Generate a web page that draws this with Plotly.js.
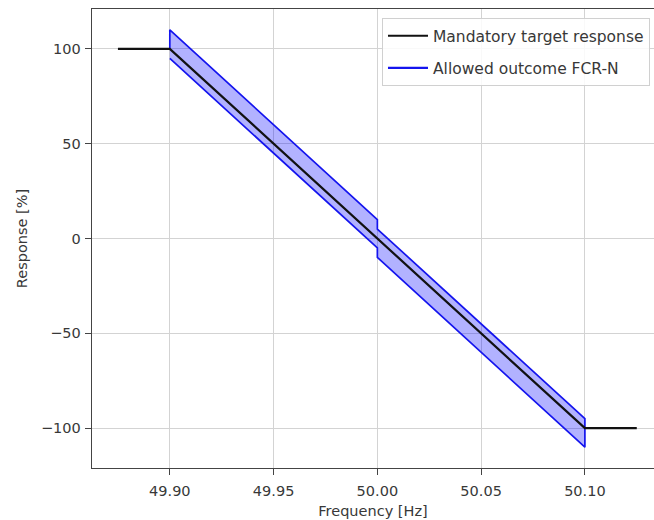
<!DOCTYPE html>
<html>
<head>
<meta charset="utf-8">
<script src="https://cdn.plot.ly/plotly-3.0.1.min.js"></script>
<style>html,body{margin:0;padding:0;background:#fff}#chart{width:654px;height:520px}</style>
</head>
<body>
<div id="chart"></div>
<script>
// Mandatory target response
const targetFreq = [49.875, 49.9, 50.1, 50.125];
const targetResp = [100, 100, -100, -100];

// Allowed outcome FCR-N band (upper and lower boundaries)
const upperFreq = [49.9, 49.9, 50.0, 50.0, 50.1];
const upperResp = [100, 110, 10, 5, -95];
const lowerFreq = [49.9, 50.0, 50.0, 50.1, 50.1];
const lowerResp = [95, -5, -10, -110, -100];

const xTicks = [49.90, 49.95, 50.00, 50.05, 50.10];
const yTicks = [-100, -50, 0, 50, 100];

const bandX = upperFreq.concat(lowerFreq.slice().reverse());
const bandY = upperResp.concat(lowerResp.slice().reverse());

const font = {family: 'DejaVu Sans, sans-serif', size: 14.5, color: '#383838'};

const traces = [
  {x: bandX, y: bandY, mode: 'lines', fill: 'toself',
   fillcolor: 'rgba(0,0,255,0.3)', line: {color: '#1414ee', width: 1.7},
   showlegend: false, hoverinfo: 'skip'},
  {x: targetFreq, y: targetResp, mode: 'lines', name: 'Mandatory target response',
   legendgroup: 'a', line: {color: '#111', width: 2.2}},
  {x: [null], y: [null], mode: 'lines', name: 'Allowed outcome FCR-N',
   legendgroup: 'b', line: {color: '#1414ee', width: 2.2}}
];

const layout = {
  width: 654, height: 520,
  margin: {l: 92, r: 0, t: 9, b: 52},
  paper_bgcolor: '#fff', plot_bgcolor: '#fff',
  font: font,
  xaxis: {
    range: [49.8625, 50.1333], tickvals: xTicks, tickformat: '.2f',
    showgrid: true, gridcolor: '#d3d3d3', gridwidth: 1,
    showline: true, linecolor: '#444', linewidth: 1.3, mirror: true,
    ticks: 'outside', ticklen: 6, tickcolor: '#444', zeroline: false,
    ticklabelstandoff: 3,
    title: {text: 'Frequency [Hz]', font: font, standoff: 8}
  },
  yaxis: {
    range: [-121, 121], tickvals: yTicks,
    showgrid: true, gridcolor: '#d3d3d3', gridwidth: 1,
    showline: true, linecolor: '#444', linewidth: 1.3, mirror: false,
    ticks: 'outside', ticklen: 6, tickcolor: '#444', zeroline: false,
    ticklabelstandoff: 1,
    title: {text: 'Response [%]', font: font, standoff: 10}
  },
  legend: {
    x: 0.516, xanchor: 'left', y: 0.98, yanchor: 'top',
    bgcolor: 'rgba(255,255,255,0.85)', bordercolor: '#d0d0d0', borderwidth: 1,
    font: {family: 'DejaVu Sans, sans-serif', size: 15.5, color: '#383838'},
    tracegroupgap: 9, itemwidth: 40
  },
  showlegend: true
};

Plotly.newPlot('chart', traces, layout, {displayModeBar: false, staticPlot: true});
</script>
</body>
</html>
